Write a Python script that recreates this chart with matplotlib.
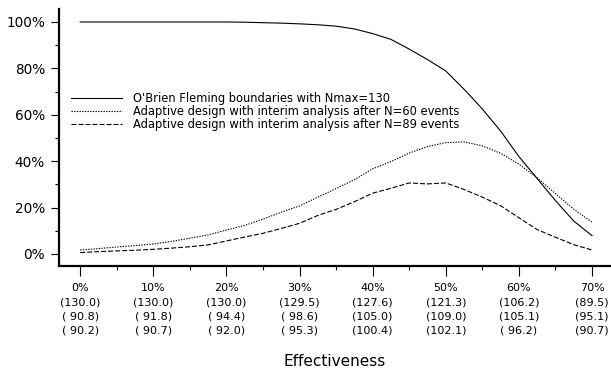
import matplotlib
matplotlib.use("Agg")
import matplotlib.pyplot as plt
from matplotlib.ticker import MultipleLocator, FixedLocator

## effectiveness grid (percent), points every 2.5%
eff = [0, 2.5, 5, 7.5, 10, 12.5, 15, 17.5, 20, 22.5, 25, 27.5, 30, 32.5, 35,
       37.5, 40, 42.5, 45, 47.5, 50, 52.5, 55, 57.5, 60, 62.5, 65, 67.5, 70]

## power curves (percent)
obf = [100, 100, 100, 100, 100, 100, 100, 100, 100, 99.9, 99.7, 99.5, 99.2, 98.8, 98.2,
       97.0, 95.0, 92.5, 88.3, 83.8, 78.9, 71.0, 62.5, 53.0, 42.0, 32.5, 23.0, 14.2, 7.9]
ad60 = [1.7, 2.3, 3.0, 3.6, 4.3, 5.4, 6.8, 8.2, 10.3, 12.3, 15.0, 18.0, 20.7, 24.5, 28.2,
        32.0, 36.7, 39.8, 43.5, 46.3, 48.0, 48.3, 46.6, 43.4, 38.7, 32.8, 26.0, 19.3, 13.7]
ad89 = [0.6, 1.0, 1.3, 1.6, 2.0, 2.5, 3.1, 3.9, 5.6, 7.3, 8.9, 11.0, 13.2, 16.6, 19.2,
        22.5, 26.2, 28.3, 30.6, 30.2, 30.6, 27.8, 24.5, 20.8, 15.6, 10.5, 7.2, 4.0, 1.7]

labels = ["O'Brien Fleming boundaries with Nmax=130",
          "Adaptive design with interim analysis after N=60 events",
          "Adaptive design with interim analysis after N=89 events"]

## x tick labels: effectiveness and expected number of events
x_major = [0, 10, 20, 30, 40, 50, 60, 70]
n_obf = ["130.0", "130.0", "130.0", "129.5", "127.6", "121.3", "106.2", "89.5"]
n_60 = [" 90.8", " 91.8", " 94.4", " 98.6", "105.0", "109.0", "105.1", "95.1"]
n_89 = [" 90.2", " 90.7", " 92.0", " 95.3", "100.4", "102.1", " 96.2", "90.7"]

y_major = [0, 20, 40, 60, 80, 100]

fig = plt.figure(figsize=(6.11, 3.73), dpi=100)
ax = fig.add_axes([59/611, 1 - 266/373, 1 - 59/611, (266 - 9)/373])

ax.plot(eff, obf, color="black", lw=0.8, label=labels[0])
ax.plot(eff, ad60, color="black", lw=0.8, linestyle=(0, (1.2, 1.2)), label=labels[1])
ax.plot(eff, ad89, color="black", lw=0.8, linestyle=(0, (4.5, 1.8)), label=labels[2])

ax.set_xlim(-2.9, 72.6)
ax.set_ylim(-5.2, 105.6)

for s in ["top", "right"]:
    ax.spines[s].set_visible(False)
for s in ["left", "bottom"]:
    ax.spines[s].set_linewidth(1.6)

ax.xaxis.set_major_locator(FixedLocator(x_major))
ax.xaxis.set_minor_locator(MultipleLocator(5))
xt = []
for i in range(len(x_major)):
    xt.append("%d%%\n(%s)\n(%s)\n(%s)" % (x_major[i], n_obf[i], n_60[i], n_89[i]))
ax.set_xticklabels(xt, fontsize=8, linespacing=1.55)

ax.yaxis.set_major_locator(FixedLocator(y_major))
ax.yaxis.set_minor_locator(MultipleLocator(10))
ax.set_yticklabels(["%d%%" % v for v in y_major], fontsize=9.8)

ax.tick_params(axis="x", which="major", direction="out", length=7, width=0.8, pad=5)
ax.tick_params(axis="x", which="minor", direction="out", length=3, width=0.8)
ax.tick_params(axis="y", which="major", direction="out", length=6, width=0.8, pad=4)
ax.tick_params(axis="y", which="minor", direction="out", length=3, width=0.8)

ax.set_xlabel("Effectiveness", fontsize=11, labelpad=13)

fig.legend(loc="upper left", bbox_to_anchor=(71/611, 1 - 92/373), frameon=False,
           fontsize=8.3, handlelength=4.4, handletextpad=1.0, labelspacing=0.02,
           borderpad=0, borderaxespad=0)

fig.savefig("out.png", dpi=100)
